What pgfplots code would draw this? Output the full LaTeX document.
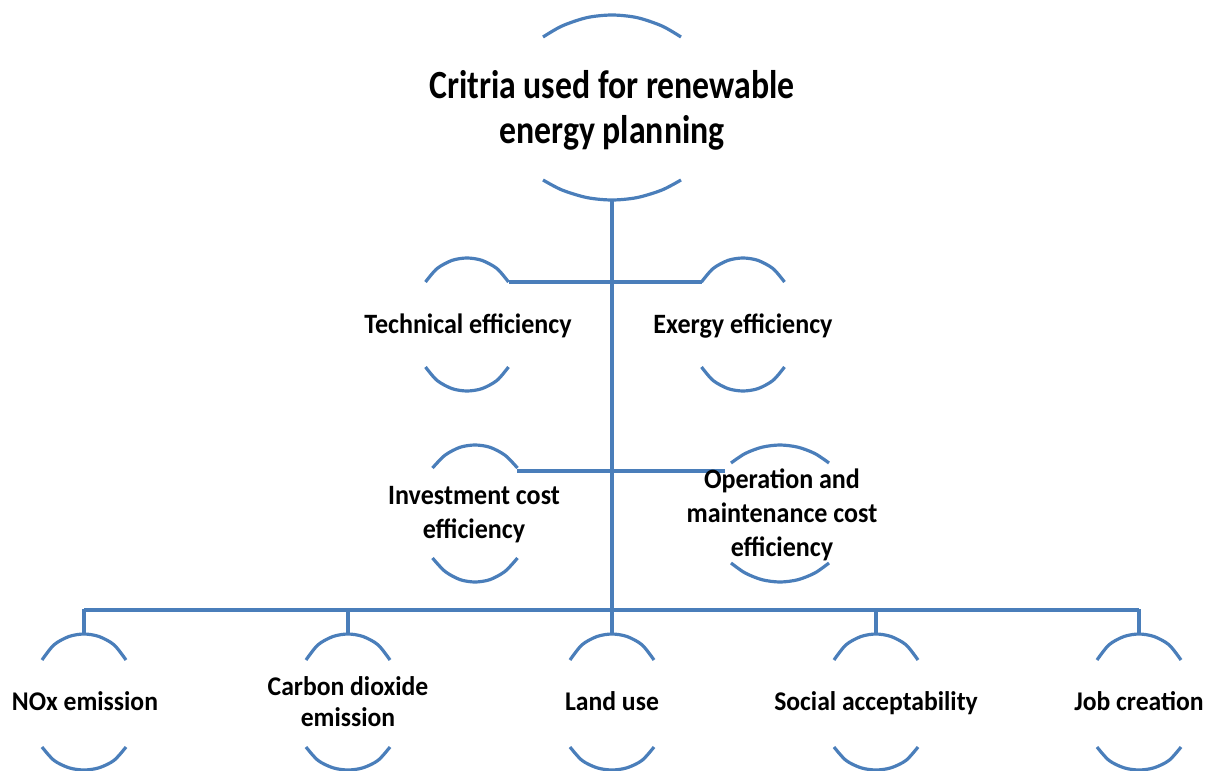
\documentclass[border=0pt]{standalone}
\usepackage{pgfplots}
\pgfplotsset{compat=1.18}
\usepackage{fontspec}
\setmainfont{Carlito}
\definecolor{lb}{HTML}{4A7EBA}
\newcommand{\lab}[4]{\scalebox{#4}[1]{\fontsize{#1}{#2}\selectfont\bfseries\begin{tabular}{@{}c@{}}#3\end{tabular}}}
\begin{document}
\begin{tikzpicture}
\begin{axis}[width=608pt,height=385.5pt,scale only axis,
  xmin=0,xmax=1216,ymin=0,ymax=771,y dir=reverse,
  hide axis, clip=false]
% trunk and connectors
\addplot[lb,line width=2pt] coordinates {(612,200) (612,610)};
\addplot[lb,line width=2pt] coordinates {(84,610) (1139,610)};
\addplot[lb,line width=2pt] coordinates {(509,282) (702,282)};
\addplot[lb,line width=2pt] coordinates {(517,471) (725,471)};
\addplot[lb,line width=1.8pt] coordinates {(84,609) (84,634)};
\addplot[lb,line width=1.8pt] coordinates {(348,609) (348,634)};
\addplot[lb,line width=1.8pt] coordinates {(612,609) (612,634)};
\addplot[lb,line width=1.8pt] coordinates {(876,609) (876,634)};
\addplot[lb,line width=1.8pt] coordinates {(1139,609) (1139,634)};
% title arcs
\addplot[lb,line width=1.6pt,smooth] coordinates {(543,37) (562,26) (587,17.6) (612,15) (637,17.6) (662,26) (681,37)};
\addplot[lb,line width=1.6pt,smooth] coordinates {(543,180) (562,190) (587,197.6) (612,200) (637,197.6) (662,190) (681,180)};
% row 2
\addplot[lb,line width=1.6pt,smooth] coordinates {(425.5,282) (437,268.6) (452,260.4) (467,258) (482,260.4) (497,268.6) (508.5,282)};
\addplot[lb,line width=1.6pt,smooth] coordinates {(701.5,282) (713,268.6) (728,260.4) (743,258) (758,260.4) (773,268.6) (784.5,282)};
\addplot[lb,line width=1.6pt,smooth] coordinates {(425.5,367) (437,380.4) (452,388.6) (467,391) (482,388.6) (497,380.4) (508.5,367)};
\addplot[lb,line width=1.6pt,smooth] coordinates {(701.5,367) (713,380.4) (728,388.6) (743,391) (758,388.6) (773,380.4) (784.5,367)};
% row 3
\addplot[lb,line width=1.6pt,smooth] coordinates {(432.5,468) (445,455.2) (460,447.3) (475,445) (490,447.3) (505,455.2) (517.5,468)};
\addplot[lb,line width=1.6pt,smooth] coordinates {(432.5,558) (445,571.4) (460,579.6) (475,582) (490,579.6) (505,571.4) (517.5,558)};
\addplot[lb,line width=1.6pt,smooth] coordinates {(731,463) (745,453.6) (762,447.2) (780,445) (798,447.2) (815,453.6) (829,463)};
\addplot[lb,line width=1.6pt,smooth] coordinates {(731,563) (745,572.9) (762,579.7) (780,582) (798,579.7) (815,572.9) (829,563)};
% bottom row arcs
\addplot[lb,line width=1.6pt,smooth] coordinates {(42,660) (54,644.8) (69,636.5) (84,634) (99,636.5) (114,644.8) (126,660)};
\addplot[lb,line width=1.6pt,smooth] coordinates {(42,747) (54,760.4) (69,767.8) (84,770) (99,767.8) (114,760.4) (126,747)};
\addplot[lb,line width=1.6pt,smooth] coordinates {(306,660) (318,644.8) (333,636.5) (348,634) (363,636.5) (378,644.8) (390,660)};
\addplot[lb,line width=1.6pt,smooth] coordinates {(306,747) (318,760.4) (333,767.8) (348,770) (363,767.8) (378,760.4) (390,747)};
\addplot[lb,line width=1.6pt,smooth] coordinates {(570,660) (582,644.8) (597,636.5) (612,634) (627,636.5) (642,644.8) (654,660)};
\addplot[lb,line width=1.6pt,smooth] coordinates {(570,747) (582,760.4) (597,767.8) (612,770) (627,767.8) (642,760.4) (654,747)};
\addplot[lb,line width=1.6pt,smooth] coordinates {(834,660) (846,644.8) (861,636.5) (876,634) (891,636.5) (906,644.8) (918,660)};
\addplot[lb,line width=1.6pt,smooth] coordinates {(834,747) (846,760.4) (861,767.8) (876,770) (891,767.8) (906,760.4) (918,747)};
\addplot[lb,line width=1.6pt,smooth] coordinates {(1097,660) (1109,644.8) (1124,636.5) (1139,634) (1154,636.5) (1169,644.8) (1181,660)};
\addplot[lb,line width=1.6pt,smooth] coordinates {(1097,747) (1109,760.4) (1124,767.8) (1139,770) (1154,767.8) (1169,760.4) (1181,747)};
% labels
\node at (axis cs:612,112) {\lab{20}{22.5}{Critria used for renewable\\energy planning}{0.845}};
\node at (axis cs:468,327) {\lab{14}{17}{Technical efficiency}{0.93}};
\node at (axis cs:743,327) {\lab{14}{17}{Exergy efficiency}{0.93}};
\node at (axis cs:474,515) {\lab{14}{17}{Investment cost\\efficiency}{0.93}};
\node at (axis cs:782,516) {\lab{14}{17}{Operation and\\maintenance cost\\efficiency}{0.93}};
\node at (axis cs:85,704) {\lab{13.5}{15.5}{NOx emission}{0.95}};
\node at (axis cs:348,705) {\lab{13.5}{15.5}{Carbon dioxide\\emission}{0.95}};
\node at (axis cs:612,704) {\lab{13.5}{15.5}{Land use}{0.95}};
\node at (axis cs:876,704) {\lab{13.5}{15.5}{Social acceptability}{0.95}};
\node at (axis cs:1139,704) {\lab{13.5}{15.5}{Job creation}{0.95}};
\end{axis}
\pgfresetboundingbox
\useasboundingbox (current axis.south west) rectangle (current axis.north east);
\end{tikzpicture}
\end{document}
